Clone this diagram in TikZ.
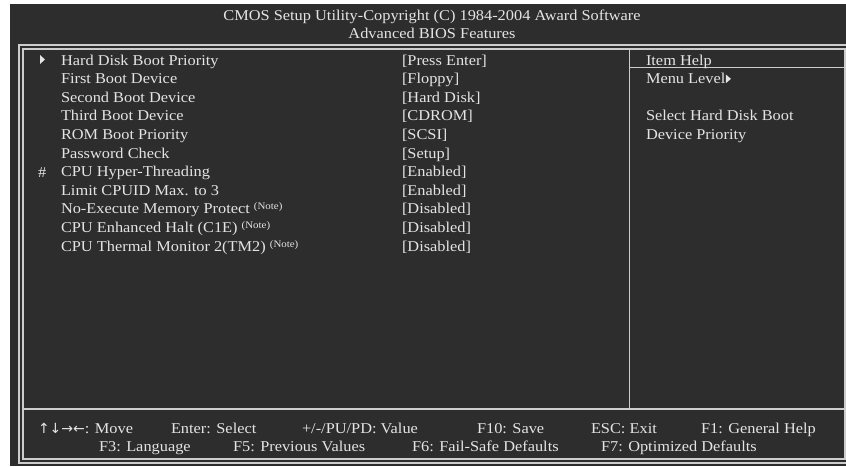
\documentclass[tikz,border=0pt]{standalone}
\usepackage{fontspec}
\setmainfont{Liberation Serif}[FakeStretch=1.09]
\newfontfamily\arrowfont{DejaVu Sans}
\begin{document}
\begin{tikzpicture}[x=1pt,y=-1pt,
  every node/.style={inner sep=0pt,outer sep=0pt,text=txt,font=\fontsize{15}{18}\selectfont},
  lbl/.style={anchor=base west},
  ttl/.style={anchor=base},
  frame/.style={draw=ln,line width=1.1pt}]
\definecolor{bg}{RGB}{45,45,45}
\definecolor{txt}{RGB}{228,228,228}
\definecolor{ln}{RGB}{205,205,205}
\useasboundingbox (0,0) rectangle (846,466);
\fill[white] (0,0) rectangle (846,466);
\fill[bg] (10,4) rectangle (846,466);
% frames
\draw[frame] (19,45) rectangle (852,463);
\draw[frame] (23,49) rectangle (845,459);
\coordinate (vt) at (629.5,49);
\coordinate (vb) at (629.5,409);
\coordinate (fl) at (23,409);
\coordinate (fr) at (845,409);
\coordinate (hl) at (629.5,67.5);
\coordinate (hr) at (845,67.5);
\draw[frame] (vt) -- (vb);
\draw[frame] (fl) -- (fr);
\draw[frame] (hl) -- (hr);
% titles
\node[ttl] (t1) at (432,20) {CMOS Setup Utility-Copyright (C) 1984-2004 Award Software};
\node[ttl] (t2) at (432,38.5) {Advanced BIOS Features};
% marker
\fill[txt] (40,55) -- (40,64) -- (45,59.5) -- cycle;
\node[lbl] (hash) at (38,177.6) {\#};
% items
\foreach \i/\t/\v in {0/Hard Disk Boot Priority/Press Enter,
  1/First Boot Device/Floppy,
  2/Second Boot Device/Hard Disk,
  3/Third Boot Device/CDROM,
  4/ROM Boot Priority/SCSI,
  5/Password Check/Setup,
  6/CPU Hyper-Threading/Enabled,
  7/Limit CPUID Max. to 3/Enabled}{
  \node[lbl] (it\i) at (61,{65+18.6*\i}) {\t};
  \node[lbl] (va\i) at (402,{65+18.6*\i}) {[\v]};
}
\newcommand\notemark{\raisebox{4pt}{\fontsize{10}{11}\selectfont(Note)}}
\node[lbl] (it8) at (61,{65+18.6*8}) {No-Execute Memory Protect \notemark};
\node[lbl] (it9) at (61,{65+18.6*9}) {CPU Enhanced Halt (C1E) \notemark};
\node[lbl] (it10) at (61,{65+18.6*10}) {CPU Thermal Monitor 2(TM2) \notemark};
\node[lbl] (va8) at (402,{65+18.6*8}) {[Disabled]};
\node[lbl] (va9) at (402,{65+18.6*9}) {[Disabled]};
\node[lbl] (va10) at (402,{65+18.6*10}) {[Disabled]};
% help panel
\node[lbl] (ih) at (646,65) {Item Help};
\node[lbl] (ml) at (646,83.6) {Menu Level};
\fill[txt] ([xshift=0.5pt,yshift=9pt]ml.base east) -- ([xshift=0.5pt,yshift=0.5pt]ml.base east) -- ([xshift=5.5pt,yshift=4.75pt]ml.base east) -- cycle;
\node[lbl] (h1) at (646,120.8) {Select Hard Disk Boot};
\node[lbl] (h2) at (646,139.4) {Device Priority};
% footer
\node[lbl] (f1) at (38,433) {{\arrowfont\fontsize{14}{16}\selectfont ↑↓→←}: Move};
\node[lbl] (f2) at (171,433) {Enter: Select};
\node[lbl] (f3) at (302,433) {+/-/PU/PD: Value};
\node[lbl] (f4) at (477,433) {F10: Save};
\node[lbl] (f5) at (591,433) {ESC: Exit};
\node[lbl] (f6) at (701,433) {F1: General Help};
\node[lbl] (g1) at (99,451) {F3: Language};
\node[lbl] (g2) at (233,451) {F5: Previous Values};
\node[lbl] (g3) at (412,451) {F6: Fail-Safe Defaults};
\node[lbl] (g4) at (601,451) {F7: Optimized Defaults};
\end{tikzpicture}
\end{document}
